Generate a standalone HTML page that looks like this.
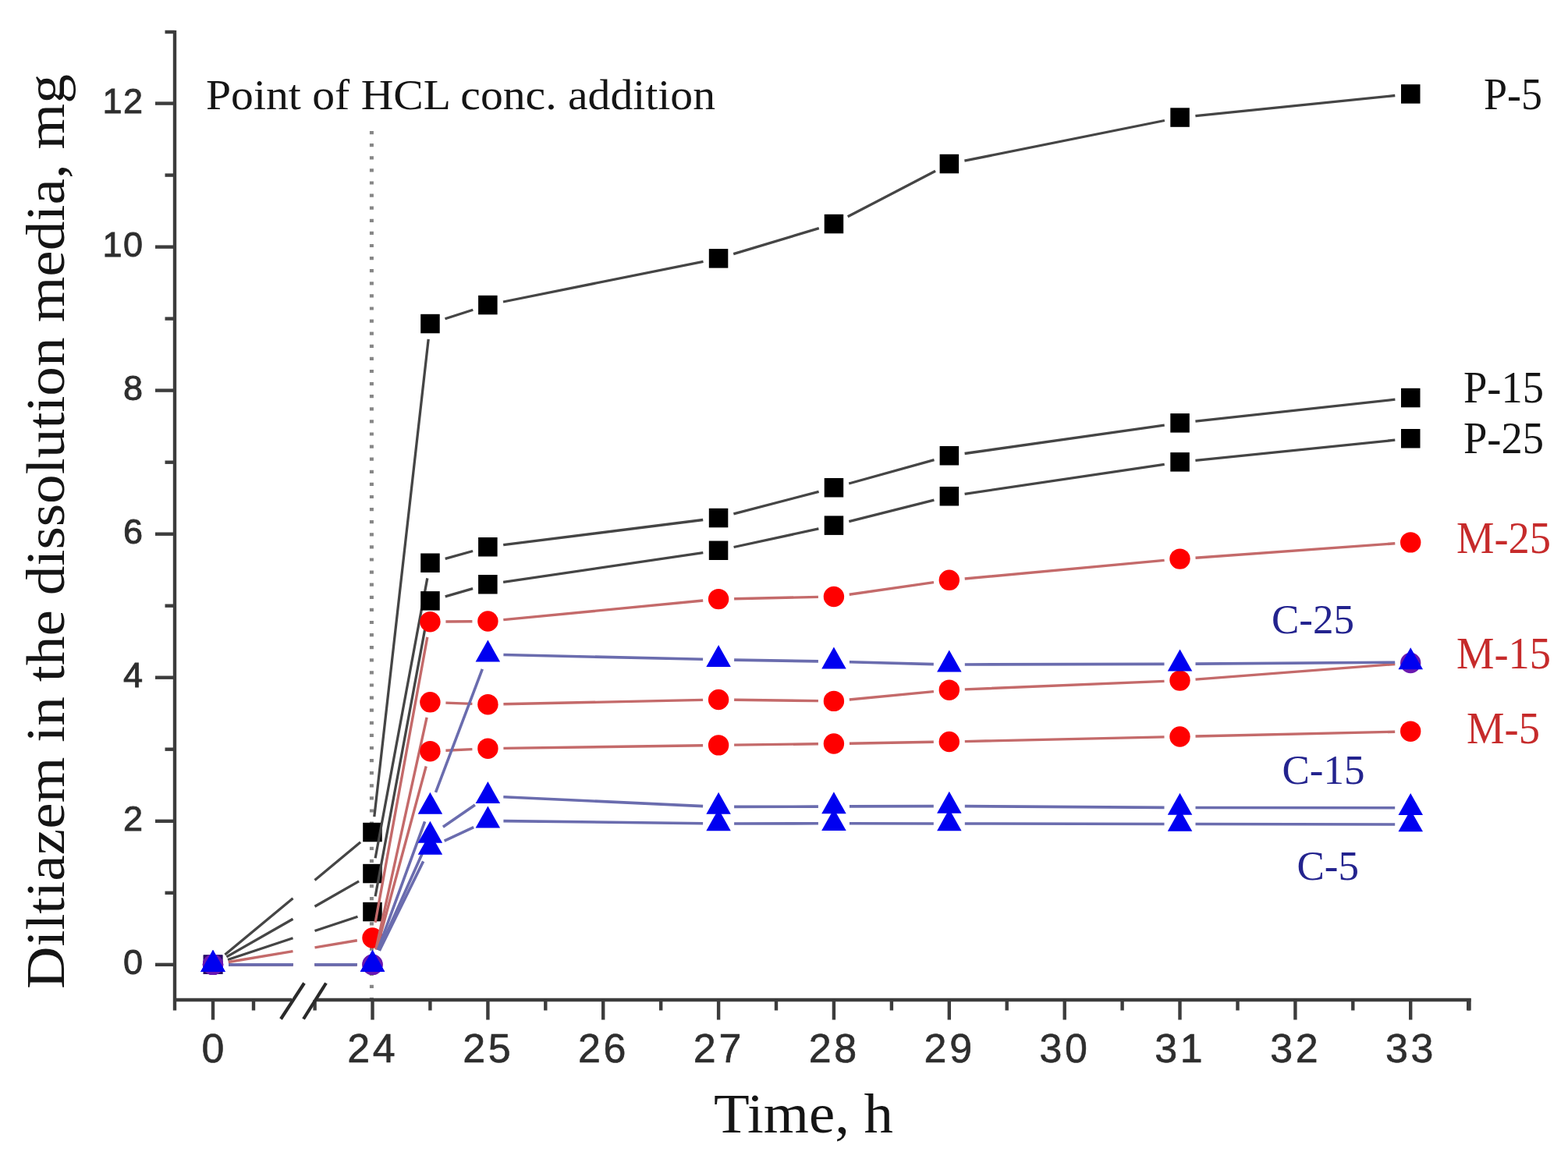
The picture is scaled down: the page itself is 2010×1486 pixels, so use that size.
<!DOCTYPE html>
<html><head><meta charset="utf-8"><title>Diltiazem release</title>
<style>html,body{margin:0;padding:0;background:#fff;}body{width:2010px;height:1486px;overflow:hidden;}svg{display:block;}.sans{font-family:"Liberation Sans",Arial,sans-serif;stroke:#2e2e2e;stroke-width:0.6px;}.serif{font-family:"Liberation Serif","Times New Roman",serif;}</style>
</head><body>
<svg width="2010" height="1486" viewBox="0 0 2010 1486">
<rect width="2010" height="1486" fill="#fff"/>
<g>
<line x1="476.4" y1="168" x2="476.4" y2="1280" stroke="#868686" stroke-width="5" stroke-dasharray="4.2 11.9"/>
<g stroke="#3c3c3c" stroke-width="4.4" fill="none" stroke-linecap="butt">
<line x1="224" y1="39" x2="224" y2="1295.5"/>
<line x1="222" y1="1282" x2="374" y2="1282"/>
<line x1="406" y1="1282" x2="1885.5" y2="1282"/>
<line x1="1883.5" y1="1280" x2="1883.5" y2="1295.5"/>
<line x1="199" y1="1236.8" x2="224" y2="1236.8"/>
<line x1="211.5" y1="1144.8" x2="224" y2="1144.8"/>
<line x1="199" y1="1052.8" x2="224" y2="1052.8"/>
<line x1="211.5" y1="960.7" x2="224" y2="960.7"/>
<line x1="199" y1="868.7" x2="224" y2="868.7"/>
<line x1="211.5" y1="776.7" x2="224" y2="776.7"/>
<line x1="199" y1="684.7" x2="224" y2="684.7"/>
<line x1="211.5" y1="592.7" x2="224" y2="592.7"/>
<line x1="199" y1="500.6" x2="224" y2="500.6"/>
<line x1="211.5" y1="408.6" x2="224" y2="408.6"/>
<line x1="199" y1="316.6" x2="224" y2="316.6"/>
<line x1="211.5" y1="224.6" x2="224" y2="224.6"/>
<line x1="199" y1="132.6" x2="224" y2="132.6"/>
<line x1="211.5" y1="41" x2="224" y2="41"/>
<line x1="403.6" y1="1282" x2="403.6" y2="1295.5"/>
<line x1="477.5" y1="1282" x2="477.5" y2="1307.5"/>
<line x1="551.4" y1="1282" x2="551.4" y2="1295.5"/>
<line x1="625.4" y1="1282" x2="625.4" y2="1307.5"/>
<line x1="699.3" y1="1282" x2="699.3" y2="1295.5"/>
<line x1="773.2" y1="1282" x2="773.2" y2="1307.5"/>
<line x1="847.2" y1="1282" x2="847.2" y2="1295.5"/>
<line x1="921.1" y1="1282" x2="921.1" y2="1307.5"/>
<line x1="995" y1="1282" x2="995" y2="1295.5"/>
<line x1="1068.9" y1="1282" x2="1068.9" y2="1307.5"/>
<line x1="1142.9" y1="1282" x2="1142.9" y2="1295.5"/>
<line x1="1216.8" y1="1282" x2="1216.8" y2="1307.5"/>
<line x1="1290.7" y1="1282" x2="1290.7" y2="1295.5"/>
<line x1="1364.7" y1="1282" x2="1364.7" y2="1307.5"/>
<line x1="1438.6" y1="1282" x2="1438.6" y2="1295.5"/>
<line x1="1512.5" y1="1282" x2="1512.5" y2="1307.5"/>
<line x1="1586.5" y1="1282" x2="1586.5" y2="1295.5"/>
<line x1="1660.4" y1="1282" x2="1660.4" y2="1307.5"/>
<line x1="1734.3" y1="1282" x2="1734.3" y2="1295.5"/>
<line x1="1808.2" y1="1282" x2="1808.2" y2="1307.5"/>
<line x1="1882.2" y1="1282" x2="1882.2" y2="1295.5"/>
<line x1="273" y1="1282" x2="273" y2="1307.5"/>
<line x1="325" y1="1282" x2="325" y2="1295.5"/>
</g>
<g stroke="#2a2a2a" stroke-width="4.2" stroke-linecap="butt">
<line x1="360" y1="1306.5" x2="390" y2="1260.5"/>
<line x1="389" y1="1306.5" x2="418" y2="1260.5"/>
</g>
<g class="sans" fill="#2e2e2e" font-size="45" text-anchor="end" style="stroke-width:0.9px">
<text x="183" y="1248.8">0</text>
<text x="183" y="1064.8">2</text>
<text x="183" y="880.7">4</text>
<text x="183" y="696.7">6</text>
<text x="183" y="512.6">8</text>
<text x="183" y="328.6" textLength="51.5" lengthAdjust="spacing">10</text>
<text x="183" y="144.6" textLength="51.5" lengthAdjust="spacing">12</text>
</g>
<g class="sans" fill="#2e2e2e" font-size="52" text-anchor="middle">
<text x="273" y="1361.5">0</text>
<text x="476" y="1361.5" textLength="61.5" lengthAdjust="spacing">24</text>
<text x="623.9" y="1361.5" textLength="61.5" lengthAdjust="spacing">25</text>
<text x="771.7" y="1361.5" textLength="61.5" lengthAdjust="spacing">26</text>
<text x="919.6" y="1361.5" textLength="61.5" lengthAdjust="spacing">27</text>
<text x="1067.4" y="1361.5" textLength="61.5" lengthAdjust="spacing">28</text>
<text x="1215.3" y="1361.5" textLength="61.5" lengthAdjust="spacing">29</text>
<text x="1363.2" y="1361.5" textLength="61.5" lengthAdjust="spacing">30</text>
<text x="1511" y="1361.5" textLength="61.5" lengthAdjust="spacing">31</text>
<text x="1658.9" y="1361.5" textLength="61.5" lengthAdjust="spacing">32</text>
<text x="1806.7" y="1361.5" textLength="61.5" lengthAdjust="spacing">33</text>
</g>
<path d="M288.4 1224L375.5 1151.7 M403.5 1128.4L462.1 1079.8 M479.8 1047.1L549.2 434.9 M570.5 408.8L606.3 397.2 M645 387L901.5 335.3 M940.2 325.6L1049.8 292.7 M1086.7 277.8L1199.1 219.3 M1236.4 206.2L1492.9 154.5 M1532.4 148.6L1788.3 122.5" fill="none" stroke="#454545" stroke-width="3.3" stroke-linecap="butt"/>
<g fill="#000"><rect x="260.8" y="1224.5" width="24.5" height="24.5" fill="#2a0c66"/><rect x="465.2" y="1054.8" width="24.5" height="24.5"/><rect x="539.2" y="402.8" width="24.5" height="24.5"/><rect x="613.1" y="378.8" width="24.5" height="24.5"/><rect x="908.8" y="319.1" width="24.5" height="24.5"/><rect x="1056.7" y="274.8" width="24.5" height="24.5"/><rect x="1204.6" y="197.8" width="24.5" height="24.5"/><rect x="1500.3" y="138.3" width="24.5" height="24.5"/><rect x="1796" y="108.2" width="24.5" height="24.5"/></g>
<path d="M290.4 1226.9L375.5 1178.3 M403.5 1162.3L460.1 1129.9 M481.1 1100.3L547.8 741.4 M570.7 716.4L606.1 706.5 M645.2 698.7L901.2 666.5 M940.4 658.9L1049.6 630.4 M1088.2 620L1197.5 589.6 M1236.6 581.5L1492.7 545.2 M1532.4 540.2L1788.4 512.2" fill="none" stroke="#454545" stroke-width="3.3" stroke-linecap="butt"/>
<g fill="#000"><rect x="260.8" y="1224.5" width="24.5" height="24.5" fill="#2a0c66"/><rect x="465.2" y="1107.8" width="24.5" height="24.5"/><rect x="539.2" y="709.5" width="24.5" height="24.5"/><rect x="613.1" y="689" width="24.5" height="24.5"/><rect x="908.8" y="651.8" width="24.5" height="24.5"/><rect x="1056.7" y="613" width="24.5" height="24.5"/><rect x="1204.6" y="572" width="24.5" height="24.5"/><rect x="1500.3" y="530.1" width="24.5" height="24.5"/><rect x="1796" y="497.8" width="24.5" height="24.5"/></g>
<path d="M292 1230.5L375.5 1202.8 M403.5 1193.5L458.5 1175.3 M481.1 1149.3L547.8 790.1 M570.7 764.9L606.1 754.7 M645.1 746.3L901.3 708.7 M940.6 701.5L1049.4 677.9 M1088.3 668.7L1197.4 641.1 M1236.6 633.3L1492.7 595.3 M1532.4 590.4L1788.3 564.2" fill="none" stroke="#454545" stroke-width="3.3" stroke-linecap="butt"/>
<g fill="#000"><rect x="260.8" y="1224.5" width="24.5" height="24.5" fill="#2a0c66"/><rect x="465.2" y="1156.8" width="24.5" height="24.5"/><rect x="539.2" y="758.1" width="24.5" height="24.5"/><rect x="613.1" y="737" width="24.5" height="24.5"/><rect x="908.8" y="693.5" width="24.5" height="24.5"/><rect x="1056.7" y="661.4" width="24.5" height="24.5"/><rect x="1204.6" y="624" width="24.5" height="24.5"/><rect x="1500.3" y="580.1" width="24.5" height="24.5"/><rect x="1796" y="550" width="24.5" height="24.5"/></g>
<path d="M292.7 1233.5L375.5 1219.6 M403.5 1214.9L457.8 1205.8 M481.1 1182.8L547.8 816.9 M571.4 797L605.4 796.7 M645.3 794.6L901.2 770 M941.1 767.7L1048.9 765.4 M1088.7 762.2L1197 746.6 M1236.7 742L1492.6 718.4 M1532.5 715.2L1788.3 696.8" fill="none" stroke="#c46a6a" stroke-width="3.4" stroke-linecap="butt"/>
<g fill="#ff0000"><circle cx="273" cy="1236.8" r="13.2" fill="#6a18b0"/><circle cx="477.5" cy="1202.5" r="13.2"/><circle cx="551.4" cy="797.2" r="13.2"/><circle cx="625.4" cy="796.5" r="13.2"/><circle cx="921.1" cy="768.1" r="13.2"/><circle cx="1068.9" cy="765" r="13.2"/><circle cx="1216.8" cy="743.8" r="13.2"/><circle cx="1512.5" cy="716.6" r="13.2"/><circle cx="1808.2" cy="695.4" r="13.2"/></g>
<path d="M293 1236.8L375.5 1236.8 M403.5 1236.8L457.5 1236.8 M481.8 1217.3L547.1 919.8 M571.4 901.1L605.4 902.4 M645.4 902.8L901.1 897.4 M941.1 897.3L1048.9 898.6 M1088.8 897L1196.9 886.6 M1236.8 883.9L1492.5 873.4 M1532.5 871.1L1788.3 851.5" fill="none" stroke="#c46a6a" stroke-width="3.4" stroke-linecap="butt"/>
<g fill="#ff0000"><circle cx="273" cy="1236.8" r="13.2" fill="#6a18b0"/><circle cx="477.5" cy="1236.8" r="13.2" fill="#6a18b0"/><circle cx="551.4" cy="900.3" r="13.2"/><circle cx="625.4" cy="903.2" r="13.2"/><circle cx="921.1" cy="897" r="13.2"/><circle cx="1068.9" cy="898.9" r="13.2"/><circle cx="1216.8" cy="884.7" r="13.2"/><circle cx="1512.5" cy="872.6" r="13.2"/><circle cx="1808.2" cy="850" r="13.2" fill="#6a18b0"/></g>
<path d="M293 1236.8L375.5 1236.8 M403.5 1236.8L457.5 1236.8 M482.7 1217.5L546.2 982.5 M571.4 962.3L605.4 960.6 M645.4 959.4L901.1 955.7 M941.1 955.1L1048.9 953.8 M1088.9 953.2L1196.8 951.3 M1236.8 950.6L1492.5 944.9 M1532.5 944L1788.2 938.2" fill="none" stroke="#c46a6a" stroke-width="3.4" stroke-linecap="butt"/>
<g fill="#ff0000"><circle cx="273" cy="1236.8" r="13.2" fill="#6a18b0"/><circle cx="477.5" cy="1236.8" r="13.2" fill="#6a18b0"/><circle cx="551.4" cy="963.2" r="13.2"/><circle cx="625.4" cy="959.7" r="13.2"/><circle cx="921.1" cy="955.4" r="13.2"/><circle cx="1068.9" cy="953.5" r="13.2"/><circle cx="1216.8" cy="951" r="13.2"/><circle cx="1512.5" cy="944.5" r="13.2"/><circle cx="1808.2" cy="937.7" r="13.2"/></g>
<path d="M293 1236.8L375.5 1236.8 M403.5 1236.8L457.5 1236.8 M484.4 1218L544.6 1053.3 M558.5 1015.8L618.3 857.8 M645.4 839.5L901.1 845.3 M941.1 846.1L1048.9 847.9 M1088.9 848.8L1196.8 851.6 M1236.8 852L1492.5 851.4 M1532.5 851.1L1788.2 849.2" fill="none" stroke="#6a6cae" stroke-width="3.6" stroke-linecap="butt"/>
<g fill="#0000f0"><polygon points="273,1218.1 257.2,1246.1 288.8,1246.1"/><polygon points="477.5,1218.1 461.8,1246.1 493.2,1246.1"/><polygon points="551.4,1015.8 535.7,1043.8 567.2,1043.8"/><polygon points="625.4,820.4 609.6,848.4 641.1,848.4"/><polygon points="921.1,827 905.3,855 936.8,855"/><polygon points="1068.9,829.6 1053.2,857.6 1084.7,857.6"/><polygon points="1216.8,833.4 1201.1,861.4 1232.6,861.4"/><polygon points="1512.5,832.6 1496.8,860.6 1528.3,860.6"/><polygon points="1808.2,830.3 1792.5,858.3 1824,858.3"/></g>
<path d="M293 1236.8L375.5 1236.8 M403.5 1236.8L457.5 1236.8 M485.7 1218.5L543.3 1089.8 M567.9 1060.2L608.9 1032.1 M645.3 1021.7L901.1 1033.6 M941.1 1034.4L1048.9 1034.1 M1088.9 1033.9L1196.8 1033.6 M1236.8 1033.6L1492.5 1035.4 M1532.5 1035.5L1788.2 1035.8" fill="none" stroke="#6a6cae" stroke-width="3.6" stroke-linecap="butt"/>
<g fill="#0000f0"><polygon points="273,1218.1 257.2,1246.1 288.8,1246.1"/><polygon points="477.5,1218.1 461.8,1246.1 493.2,1246.1"/><polygon points="551.4,1052.8 535.7,1080.8 567.2,1080.8"/><polygon points="625.4,1002.1 609.6,1030.1 641.1,1030.1"/><polygon points="921.1,1015.8 905.3,1043.8 936.8,1043.8"/><polygon points="1068.9,1015.3 1053.2,1043.3 1084.7,1043.3"/><polygon points="1216.8,1014.8 1201.1,1042.8 1232.6,1042.8"/><polygon points="1512.5,1016.8 1496.8,1044.8 1528.3,1044.8"/><polygon points="1808.2,1017.1 1792.5,1045.1 1824,1045.1"/></g>
<path d="M293 1236.8L375.5 1236.8 M403.5 1236.8L457.5 1236.8 M486.3 1218.9L542.6 1104.4 M569.6 1078.1L607.2 1060.7 M645.4 1052.6L901.1 1055.7 M941.1 1056L1048.9 1055.8 M1088.9 1055.8L1196.8 1056 M1236.8 1056L1492.5 1056.5 M1532.5 1056.5L1788.2 1057" fill="none" stroke="#6a6cae" stroke-width="3.6" stroke-linecap="butt"/>
<g fill="#0000f0"><polygon points="273,1218.1 257.2,1246.1 288.8,1246.1"/><polygon points="477.5,1218.1 461.8,1246.1 493.2,1246.1"/><polygon points="551.4,1067.8 535.7,1095.8 567.2,1095.8"/><polygon points="625.4,1033.6 609.6,1061.6 641.1,1061.6"/><polygon points="921.1,1037.3 905.3,1065.3 936.8,1065.3"/><polygon points="1068.9,1037.1 1053.2,1065.1 1084.7,1065.1"/><polygon points="1216.8,1037.3 1201.1,1065.3 1232.6,1065.3"/><polygon points="1512.5,1037.8 1496.8,1065.8 1528.3,1065.8"/><polygon points="1808.2,1038.3 1792.5,1066.3 1824,1066.3"/></g>
<g class="serif">
<text x="264" y="140" font-size="55.5" fill="#151515" textLength="653" lengthAdjust="spacingAndGlyphs">Point of HCL conc. addition</text>
<text x="1902" y="140.3" font-size="56" fill="#151515" textLength="75" lengthAdjust="spacingAndGlyphs">P-5</text>
<text x="1876" y="516" font-size="56" fill="#151515" textLength="103" lengthAdjust="spacingAndGlyphs">P-15</text>
<text x="1876" y="580.7" font-size="56" fill="#151515" textLength="103" lengthAdjust="spacingAndGlyphs">P-25</text>
<text x="1867" y="709.1" font-size="56" fill="#c62b2b" textLength="121" lengthAdjust="spacingAndGlyphs">M-25</text>
<text x="1867" y="857.1" font-size="56" fill="#c62b2b" textLength="121" lengthAdjust="spacingAndGlyphs">M-15</text>
<text x="1880" y="953.3" font-size="56" fill="#c62b2b" textLength="94" lengthAdjust="spacingAndGlyphs">M-5</text>
<text x="1630" y="812" font-size="53" fill="#23238e" textLength="106" lengthAdjust="spacingAndGlyphs">C-25</text>
<text x="1643.5" y="1004.5" font-size="53" fill="#23238e" textLength="106" lengthAdjust="spacingAndGlyphs">C-15</text>
<text x="1662.5" y="1128.2" font-size="53" fill="#23238e" textLength="79.5" lengthAdjust="spacingAndGlyphs">C-5</text>
<text x="915" y="1451.6" font-size="72" fill="#151515" textLength="230" lengthAdjust="spacingAndGlyphs">Time, h</text>
<text transform="translate(82.4 1268) rotate(-90)" x="0" y="0" font-size="70" fill="#151515" textLength="1173" lengthAdjust="spacingAndGlyphs">Diltiazem in the dissolution media, mg</text>
</g>
</g>
</svg>
</body></html>
